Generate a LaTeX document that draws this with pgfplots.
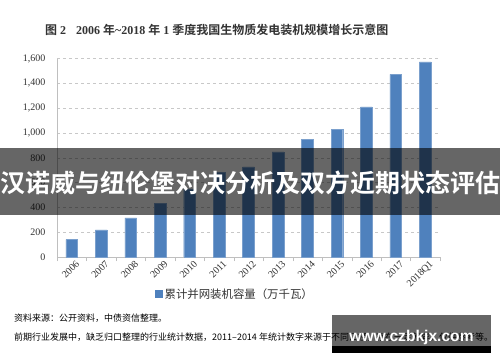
\documentclass[border=0pt]{standalone}
\usepackage{fontspec}
\setmainfont{Liberation Serif}
\newfontfamily\cjk[BoldFont={Noto Sans CJK SC Bold}]{Noto Sans CJK SC}
\newfontfamily\wsans{Liberation Sans}
\usepackage{pgfplots}
\pgfplotsset{compat=1.18}
\definecolor{barblue}{HTML}{4F81BD}
\definecolor{gridgray}{HTML}{C8C8C8}
\definecolor{axgray}{HTML}{BFBFBF}
\definecolor{txt}{HTML}{333333}
\begin{document}
\begin{tikzpicture}
\useasboundingbox (0,0) rectangle (500pt,362pt);
\fill[white] (0,0) rectangle (500pt,362pt);
% title
\node[anchor=west, inner sep=0, text=txt, font=\fontsize{12}{14}\selectfont\bfseries] at (45pt,332pt)
  {{\cjk 图} 2\hspace{10pt}2006 {\cjk 年}\textasciitilde 2018 {\cjk 年} 1 {\cjk 季度我国生物质发电装机规模增长示意图}};
\begin{axis}[
  at={(57pt,105pt)}, anchor=south west,
  scale only axis, width=383pt, height=198.4pt,
  xmin=-0.5, xmax=12.5, ymin=0, ymax=1600,
  enlargelimits=false,
  axis lines*=left,
  axis line style={axgray},
  ybar, bar width=11.7pt,
  xtick={0,...,12},
  xticklabels={2006,2007,2008,2009,2010,2011,2012,2013,2014,2015,2016,2017,2018Q1},
  minor xtick={-0.5,0.5,...,12.5},
  major tick length=0pt, minor tick length=4pt,
  tick align=outside,
  minor tick style={axgray},
  xticklabel style={rotate=45, anchor=north east, font=\fontsize{10}{12}\selectfont, text=txt, xshift=4pt, yshift=-1pt},
  ytick={0,200,...,1600},
  yticklabel style={font=\fontsize{10}{12}\selectfont, text=txt, xshift=-8pt},
  /pgf/number format/.cd, 1000 sep={,}, assume math mode=true,
  /pgfplots/.cd,
  ymajorgrids, major grid style={dashed, gridgray, line width=0.6pt},
  legend style={at={(0.256,-0.186)}, anchor=west, draw=none, fill=none, inner sep=0pt,
    font=\fontsize{11.4}{13}\selectfont\cjk, text=txt},
  legend image code/.code={\fill[barblue] (0pt,-3.5pt) rectangle (7pt,3.5pt);},
]
\addplot[fill=barblue, draw=barblue!75!white, line width=0.4pt] coordinates {
  (0,140) (1,218) (2,315) (3,430) (4,550) (5,680) (6,726) (7,847) (8,947) (9,1027) (10,1210) (11,1473) (12,1573)
};
\addlegendentry{累计并网装机容量（万千瓦）}
\end{axis}
% source lines
\node[anchor=west, inner sep=0, font=\fontsize{9}{11}\selectfont\cjk, text=black] at (14pt,44pt)
  {资料来源：公开资料，中债资信整理。};
\node[anchor=west, inner sep=0, font=\fontsize{9}{11}\selectfont\cjk, text=black] at (14pt,25pt)
  {前期行业发展中，缺乏归口整理的行业统计数据，2011–2014 年统计数字来源于不同口径，存在一定差异，仅供参考等。};
% overlay band
\fill[black, opacity=0.6] (0,147pt) rectangle (500pt,214pt);
\node[anchor=center, inner sep=0, text=white, font=\fontsize{25}{28}\selectfont\cjk\bfseries] at (250pt,179pt)
  {汉诺威与纽伦堡对决分析及双方近期状态评估};
% watermark
\fill[black, opacity=0.6] (332pt,16.5pt) rectangle (491pt,47pt);
\fill[black] (332pt,9.3pt) rectangle (491pt,16.5pt);
\node[anchor=center, inner sep=0, text=white, font=\fontsize{15.6}{18}\selectfont\wsans\bfseries] at (411.5pt,25pt)
  {www.czbkjx.com};
\end{tikzpicture}
\end{document}
